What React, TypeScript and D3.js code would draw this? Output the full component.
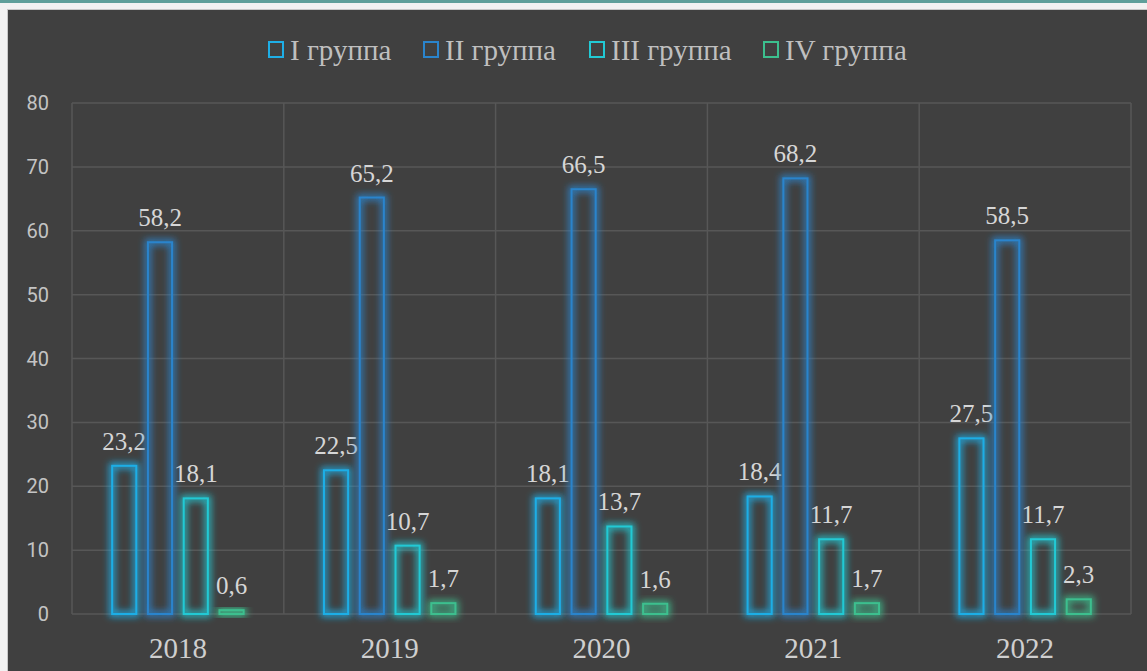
import React from "react";
import * as d3 from "d3";

const years = ["2018", "2019", "2020", "2021", "2022"];
const groups = ["I группа", "II группа", "III группа", "IV группа"];
const group1 = [23.2, 22.5, 18.1, 18.4, 27.5];
const group2 = [58.2, 65.2, 66.5, 68.2, 58.5];
const group3 = [18.1, 10.7, 13.7, 11.7, 11.7];
const group4 = [0.6, 1.7, 1.6, 1.7, 2.3];
const yTicks = [0, 10, 20, 30, 40, 50, 60, 70, 80];
const colors = ["#1eaee6", "#2a84cc", "#22c9d4", "#3cbf8e"];

const W = 1147;
const H = 671;
const serif = "'Liberation Serif', 'Times New Roman', serif";

const App = () => {
  const series = [group1, group2, group3, group4];
  const left = 72;
  const right = 1131;
  const top = 103;
  const bottom = 614;

  const x0 = d3.scaleBand().domain(years).range([left, right]).padding(0);
  const cw = x0.bandwidth();
  const x1 = d3
    .scaleBand()
    .domain(groups)
    .range([cw * 0.185, cw * 0.815])
    .paddingInner(0.27)
    .paddingOuter(0);
  const y = d3.scaleLinear().domain([0, 80]).range([bottom, top]);

  const fmt = (v: number) => v.toFixed(1).replace(".", ",");

  // legend square x for each item
  const legendX = [268, 423, 589, 763];

  return (
    <div style={{ position: "fixed", left: 0, top: 0, width: W, height: H }}>
      <svg width={W} height={H} style={{ display: "block" }}>
        <defs>
          <filter id="glow" x="-80%" y="-80%" width="260%" height="260%">
            <feMorphology in="SourceGraphic" operator="dilate" radius="1.5" result="thick" />
            <feGaussianBlur in="thick" stdDeviation="3.5" result="blur" />
            <feComponentTransfer in="blur" result="soft">
              <feFuncA type="linear" slope="0.9" />
            </feComponentTransfer>
            <feMerge>
              <feMergeNode in="soft" />
              <feMergeNode in="SourceGraphic" />
            </feMerge>
          </filter>
        </defs>
        <rect x={0} y={0} width={W} height={H} fill="#f2f2f2" />
        <rect x={0} y={0} width={W} height={3} fill="#5f9f9a" />
        <rect x={7} y={9} width={W} height={H} fill="#c8c8c8" />
        <rect x={8} y={10} width={W} height={H} fill="#404040" />

        {/* grid */}
        <g stroke="#575757" strokeWidth={1.5}>
          {yTicks.map((t) => (
            <line key={t} x1={left} x2={right} y1={y(t)} y2={y(t)} />
          ))}
          {years.map((yr) => (
            <line key={yr} x1={x0(yr)!} x2={x0(yr)!} y1={top} y2={bottom} />
          ))}
          <line x1={right} x2={right} y1={top} y2={bottom} />
        </g>

        {/* y axis labels */}
        <g fontFamily="Roboto, sans-serif" fontSize={20} fill="#c4c4c4" textAnchor="end">
          {yTicks.map((t) => (
            <text key={t} x={49} y={y(t) + 7}>
              {t}
            </text>
          ))}
        </g>

        {/* bars */}
        {years.map((yr, j) => (
          <g key={yr} transform={`translate(${x0(yr)},0)`}>
            {groups.map((g, i) => {
              const v = series[i][j];
              const bx = x1(g)!;
              const bw = x1.bandwidth();
              return (
                <g key={g}>
                  <rect
                    x={bx + 1}
                    y={y(v)}
                    width={bw - 2}
                    height={Math.max(0, y(0) - y(v))}
                    fill="none"
                    stroke={colors[i]}
                    strokeWidth={2}
                    filter="url(#glow)"
                  />
                  <text
                    x={bx + bw / 2}
                    y={y(v) - 16}
                    textAnchor="middle"
                    fontFamily={serif}
                    fontSize={25}
                    fill="#d6d6d6"
                  >
                    {fmt(v)}
                  </text>
                </g>
              );
            })}
            <text
              x={cw / 2}
              y={658}
              textAnchor="middle"
              fontFamily={serif}
              fontSize={29}
              fill="#cfcfcf"
            >
              {yr}
            </text>
          </g>
        ))}

        {/* legend */}
        <g fontFamily={serif} fontSize={29} fill="#bfbfbf">
          {groups.map((g, i) => (
            <g key={g}>
              <rect x={legendX[i] + 1} y={42} width={14} height={15} fill="none" stroke={colors[i]} strokeWidth={2} />
              <text x={legendX[i] + 22} y={60}>
                {g}
              </text>
            </g>
          ))}
        </g>
      </svg>
    </div>
  );
};

export default App;
